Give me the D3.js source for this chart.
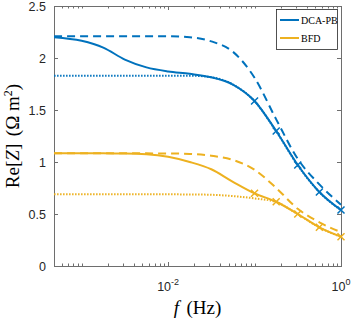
<!doctype html>
<html lang="en">
<head>
<meta charset="utf-8">
<title>Re[Z] vs f</title>
<script src="https://cdn.jsdelivr.net/npm/d3@7"></script>
<style>
  body { margin: 0; background: #fff; }
  svg { display: block; }
</style>
</head>
<body>
<script>

var freq = [0.00048, 0.001, 0.00178, 0.00316, 0.00562, 0.01, 0.0178, 0.0316, 0.0562, 0.1, 0.178, 0.316, 0.562, 1];

// DCA-PB (blue)
var blueSolid  = [2.20, 2.165, 2.10, 1.985, 1.91, 1.871, 1.848, 1.815, 1.745, 1.587, 1.298, 0.971, 0.712, 0.538];
var blueDashed = [2.21, 2.21, 2.21, 2.21, 2.21, 2.21, 2.20, 2.16, 2.06, 1.81, 1.41, 1.03, 0.785, 0.59];
var blueDotted = [1.83, 1.83, 1.83, 1.83, 1.83, 1.83, 1.83, 1.815, 1.745, 1.585, 1.295, 0.968, 0.71, 0.536];

// BFD (orange)
var orangeSolid  = [1.083, 1.083, 1.083, 1.082, 1.075, 1.05, 1.0, 0.93, 0.81, 0.699, 0.618, 0.50, 0.372, 0.282];
var orangeDashed = [1.083, 1.083, 1.083, 1.083, 1.083, 1.082, 1.078, 1.06, 1.02, 0.925, 0.75, 0.55, 0.42, 0.325];
var orangeDotted = [0.689, 0.689, 0.689, 0.689, 0.689, 0.689, 0.688, 0.685, 0.672, 0.65, 0.615, 0.498, 0.37, 0.28];

// cross markers
var markFreq   = [0.1, 0.178, 0.316, 0.562, 1];
var blueMarks  = [1.587, 1.298, 0.971, 0.712, 0.538];
var orangeMarks = [0.699, 0.618, 0.50, 0.372, 0.282];

var yTicks = [0, 0.5, 1, 1.5, 2, 2.5];
var yTickLabels = ["0", "0.5", "1", "1.5", "2", "2.5"];
var xMajor = [0.01, 1];
var xMajorExp = ["-2", "0"];
var legendNames = ["DCA-PB", "BFD"];

var blue = "#0072BD";
var orange = "#EDB120";

var width = 353, height = 319;
var pLeft = 54, pRight = 341, pTop = 6, pBottom = 266;

var svg = d3.select("body").append("svg")
    .attr("width", width)
    .attr("height", height);

svg.append("rect").attr("width", width).attr("height", height).attr("fill", "#fff");

var x = d3.scaleLog().domain([0.000479, 1]).range([pLeft, pRight]);
var y = d3.scaleLinear().domain([0, 2.5]).range([pBottom, pTop]);

// minor tick positions
var minor = [];
[0.0001, 0.001, 0.01, 0.1].forEach(function(d){
    for (var k = 1; k < 10; k++) {
        var v = d * k;
        if (v > x.domain()[0] * 1.05 && v < 1 && Math.abs(v - 0.01) > 1e-9) minor.push(v);
    }
});

var axisColor = "#6e6e6e";
var ax = svg.append("g");

// ticks inward, all four sides
minor.forEach(function(v){
    var px = Math.round(x(v)) + 0.5;
    ax.append("line").attr("x1", px).attr("x2", px).attr("y1", pBottom).attr("y2", pBottom - 2.5).attr("stroke", axisColor);
    ax.append("line").attr("x1", px).attr("x2", px).attr("y1", pTop).attr("y2", pTop + 2.5).attr("stroke", axisColor);
});
xMajor.forEach(function(v){
    var px = Math.round(x(v)) + 0.5;
    ax.append("line").attr("x1", px).attr("x2", px).attr("y1", pBottom).attr("y2", pBottom - 4).attr("stroke", axisColor);
    ax.append("line").attr("x1", px).attr("x2", px).attr("y1", pTop).attr("y2", pTop + 4).attr("stroke", axisColor);
});
yTicks.forEach(function(v){
    var py = Math.round(y(v)) + 0.5;
    ax.append("line").attr("x1", pLeft).attr("x2", pLeft + 4).attr("y1", py).attr("y2", py).attr("stroke", axisColor);
    ax.append("line").attr("x1", pRight).attr("x2", pRight - 4).attr("y1", py).attr("y2", py).attr("stroke", axisColor);
});

ax.append("rect")
    .attr("x", pLeft + 0.5).attr("y", pTop + 0.5)
    .attr("width", pRight - pLeft).attr("height", pBottom - pTop)
    .attr("fill", "none").attr("stroke", axisColor);

// tick labels
var tickFont = "'Liberation Sans', Arial, sans-serif";
yTicks.forEach(function(v, i){
    svg.append("text")
        .attr("x", 46).attr("y", y(v) + 4.5)
        .attr("text-anchor", "end")
        .attr("font-family", tickFont).attr("font-size", 12.5)
        .attr("fill", "#262626")
        .text(yTickLabels[i]);
});
xMajor.forEach(function(v, i){
    var t = svg.append("text")
        .attr("x", x(v)).attr("y", 291)
        .attr("text-anchor", "middle")
        .attr("font-family", tickFont).attr("font-size", 12.5)
        .attr("fill", "#262626");
    t.append("tspan").text("10");
    t.append("tspan").attr("dy", -6).attr("font-size", 9).text(xMajorExp[i]);
});

// axis labels
var serif = "'Liberation Serif', 'Times New Roman', serif";
var xl = svg.append("text")
    .attr("x", (pLeft + pRight) / 2).attr("y", 313.5)
    .attr("text-anchor", "middle")
    .attr("font-family", serif).attr("font-size", 19)
    .attr("fill", "#000");
xl.append("tspan").attr("font-style", "italic").text("f");
xl.append("tspan").text("\u2009\u2009(Hz)");

var yl = svg.append("text")
    .attr("transform", "translate(19," + ((pTop + pBottom) / 2) + ") rotate(-90)")
    .attr("text-anchor", "middle")
    .attr("font-family", serif).attr("font-size", 19)
    .attr("fill", "#000");
yl.append("tspan").text("Re[");
yl.append("tspan").attr("font-style", "italic").text("Z");
yl.append("tspan").text("]\u2009\u2009(\u03A9 m");
yl.append("tspan").attr("dy", -7).attr("font-size", 12).text("2");
yl.append("tspan").attr("dy", 7).text(")");

// curves
var line = d3.line()
    .x(function(d){ return x(d[0]); })
    .y(function(d){ return y(d[1]); })
    .curve(d3.curveMonotoneX);

function series(vals) { return freq.map(function(f, i){ return [f, vals[i]]; }); }

var plot = svg.append("g");

function draw(vals, color, dash) {
    plot.append("path")
        .attr("d", line(series(vals)))
        .attr("fill", "none")
        .attr("stroke", color)
        .attr("stroke-width", 2)
        .attr("stroke-dasharray", dash);
}

draw(orangeDotted, orange, "1.5,1.5");
draw(orangeDashed, orange, "8,5");
draw(orangeSolid, orange, null);
draw(blueDotted, blue, "1.5,1.5");
draw(blueDashed, blue, "8,5");
draw(blueSolid, blue, null);

function crosses(vals, color) {
    markFreq.forEach(function(f, i){
        var cx = x(f), cy = y(vals[i]), s = 3.5;
        plot.append("path")
            .attr("d", "M" + (cx - s) + "," + (cy - s) + "L" + (cx + s) + "," + (cy + s) +
                       "M" + (cx - s) + "," + (cy + s) + "L" + (cx + s) + "," + (cy - s))
            .attr("stroke", color)
            .attr("stroke-width", 1.5)
            .attr("fill", "none");
    });
}
crosses(orangeMarks, orange);
crosses(blueMarks, blue);

// legend
var lg = svg.append("g");
lg.append("rect")
    .attr("x", 276.5).attr("y", 9.5)
    .attr("width", 61).attr("height", 40)
    .attr("fill", "#fff").attr("stroke", "#262626").attr("stroke-width", 0.8);
[blue, orange].forEach(function(c, i){
    var ly = 20 + i * 18;
    lg.append("line")
        .attr("x1", 280).attr("x2", 299).attr("y1", ly).attr("y2", ly)
        .attr("stroke", c).attr("stroke-width", 2);
    lg.append("text")
        .attr("x", 301).attr("y", ly + 3.5)
        .attr("font-family", serif).attr("font-size", 10)
        .attr("fill", "#000")
        .text(legendNames[i]);
});

</script>
</body>
</html>
